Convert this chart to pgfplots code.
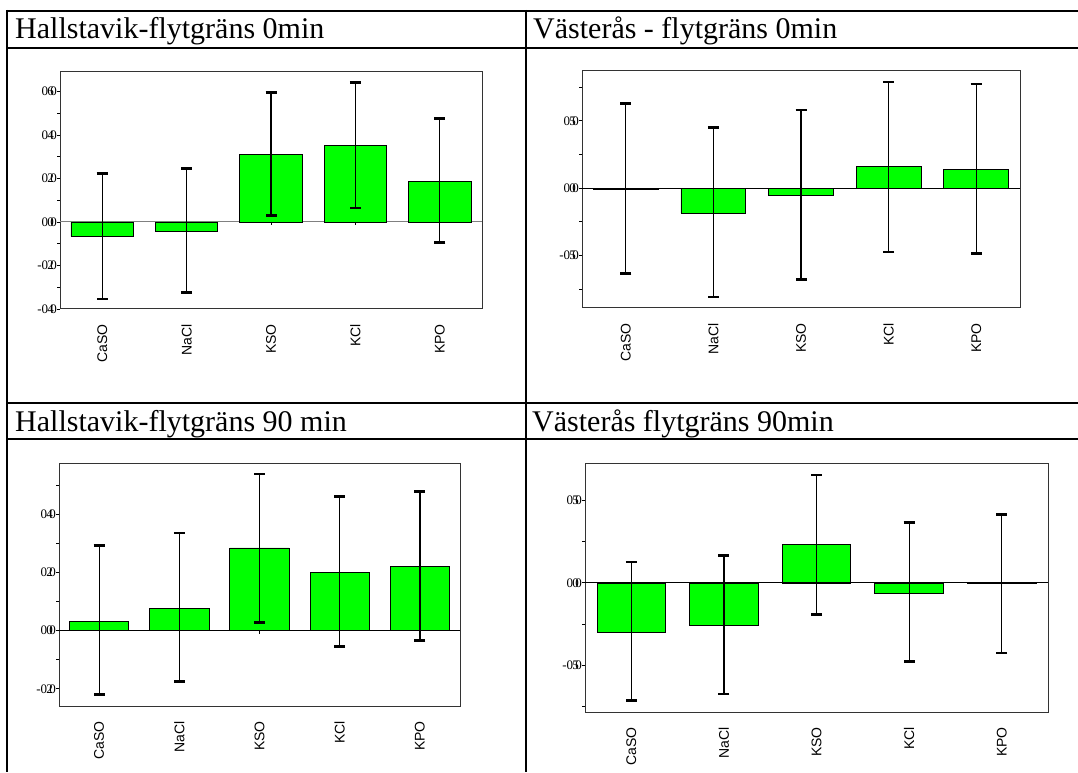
\documentclass[border=0pt]{standalone}
\usepackage{fontspec}
\setmainfont{Liberation Serif}
\newfontfamily\arial{Liberation Sans}
\usepackage{pgfplots}
\pgfplotsset{compat=1.18}

\newcommand\tl[2]{\mbox{#1\kern-0.8pt\rlap{#2}\kern3pt0}}

\pgfplotsset{
  panel/.style={
    scale only axis,
    xmin=-0.5, xmax=4.5,
    xtick={0,1,2,3,4},
    xticklabels={CaSO,NaCl,KSO,KCl,KPO},
    x tick label style={rotate=90, anchor=east, inner sep=0pt, font=\arial\fontsize{14}{14}\selectfont},
    xticklabel shift=12pt,
    x tick style={draw=none},
    y tick label style={font=\fontsize{13}{13}\selectfont, inner sep=0pt},
    tick align=outside,
    major tick length=3pt, minor tick length=3pt,
    y tick style={black, line width=0.8pt},
    minor y tick style={black, line width=0.8pt},
    axis line style={black!80, line width=1pt},
    ytick pos=left,
  },
  bars/.style={
    ybar, bar width=0.74, fill=green, draw=black, line width=0.7pt,
    error bars/.cd, y dir=both, y explicit, error mark=|,
    error bar style={line width=1.2pt, black},
    error mark options={line width=2.8pt, mark size=5.5pt, black},
  },
  ticksbelow/.style={only marks, mark=|, mark size=1.5pt, mark options={yshift=-1.5pt, black, line width=0.8pt}},
}

\begin{document}
\begin{tikzpicture}
\useasboundingbox (0pt,0pt) rectangle (1078pt,772pt);

% table rules
\draw[line width=1.8pt] (7pt,761pt) -- (1078pt,761pt);
\draw[line width=1.8pt] (7pt,724pt) -- (1078pt,724pt);
\draw[line width=1.8pt] (7pt,369pt) -- (1078pt,369pt);
\draw[line width=1.8pt] (7pt,333pt) -- (1078pt,333pt);
\draw[line width=1.8pt] (7pt,762pt) -- (7pt,0pt);
\draw[line width=1.8pt] (526pt,762pt) -- (526pt,0pt);

% titles
\node[anchor=base west, inner sep=0pt, font=\fontsize{30}{30}\selectfont] at (15pt,733pt) {Hallstavik-flytgräns 0min};
\node[anchor=base west, inner sep=0pt, font=\fontsize{30}{30}\selectfont] at (533pt,733pt) {Västerås - flytgräns 0min};
\node[anchor=base west, inner sep=0pt, font=\fontsize{30}{30}\selectfont] at (15pt,341pt) {Hallstavik-flytgräns 90 min};
\node[anchor=base west, inner sep=0pt, font=\fontsize{30}{30}\selectfont] at (532pt,341pt) {Västerås flytgräns 90min};

% Panel 1
\begin{axis}[panel, at={(60pt,463pt)}, anchor=south west, width=422pt, height=238pt,
  ymin=-0.40, ymax=0.694,
  ytick={-0.4,-0.2,0,0.2,0.4,0.6},
  yticklabels={\tl{-0}{4},\tl{-0}{2},\tl{0}{0},\tl{0}{2},\tl{0}{4},\tl{0}{6}},
  minor ytick={-0.3,-0.1,0.1,0.3,0.5}]
\addplot[gray, line width=1pt, forget plot] coordinates {(-0.5,0) (4.5,0)};
\addplot[ticksbelow] coordinates {(0,0) (1,0) (2,0) (3,0) (4,0)};
\addplot[bars] coordinates {
  (0,-0.066) += (0,0.288) -= (0,0.288)
  (1,-0.043) += (0,0.288) -= (0,0.282)
  (2,0.310)  += (0,0.286) -= (0,0.282)
  (3,0.351)  += (0,0.290) -= (0,0.287)
  (4,0.185)  += (0,0.290) -= (0,0.278)
};
\end{axis}

% Panel 2
\begin{axis}[panel, at={(582pt,464pt)}, anchor=south west, width=438pt, height=237pt,
  ymin=-0.889, ymax=0.869,
  ytick={-0.5,0,0.5},
  yticklabels={\tl{-0}{5},\tl{0}{0},\tl{0}{5}},
  minor ytick={-0.75,-0.25,0.25,0.75}]
\addplot[ticksbelow] coordinates {(0,0) (1,0) (2,0) (3,0) (4,0)};
\addplot[bars] coordinates {
  (0,-0.010) += (0,0.635) -= (0,0.625)
  (1,-0.185) += (0,0.637) -= (0,0.622)
  (2,-0.057) += (0,0.637) -= (0,0.622)
  (3,0.163)  += (0,0.625) -= (0,0.637)
  (4,0.138)  += (0,0.635) -= (0,0.624)
};
\addplot[black, line width=1pt, forget plot] coordinates {(-0.5,0) (4.5,0)};
\end{axis}

% Panel 3
\begin{axis}[panel, at={(59pt,66pt)}, anchor=south west, width=401pt, height=243pt,
  ymin=-0.259, ymax=0.577,
  ytick={-0.2,0,0.2,0.4},
  yticklabels={\tl{-0}{2},\tl{0}{0},\tl{0}{2},\tl{0}{4}},
  minor ytick={-0.1,0.1,0.3,0.5}]
\addplot[black, line width=1pt, forget plot] coordinates {(-0.5,0) (4.5,0)};
\addplot[ticksbelow] coordinates {(0,0) (1,0) (2,0) (3,0) (4,0)};
\addplot[bars] coordinates {
  (0,0.032) += (0,0.260) -= (0,0.252)
  (1,0.076) += (0,0.260) -= (0,0.252)
  (2,0.285) += (0,0.254) -= (0,0.257)
  (3,0.202) += (0,0.260) -= (0,0.257)
  (4,0.220) += (0,0.258) -= (0,0.253)
};
\end{axis}

% Panel 4
\begin{axis}[panel, at={(585pt,60pt)}, anchor=south west, width=463pt, height=248pt,
  ymin=-0.782, ymax=0.72,
  ytick={-0.5,0,0.5},
  yticklabels={\tl{-0}{5},\tl{0}{0},\tl{0}{5}},
  minor ytick={-0.75,-0.25,0.25}]
\addplot[ticksbelow] coordinates {(0,0) (1,0) (2,0) (3,0) (4,0)};
\addplot[bars] coordinates {
  (0,-0.298) += (0,0.425) -= (0,0.416)
  (1,-0.256) += (0,0.421) -= (0,0.417)
  (2,0.234)  += (0,0.419) -= (0,0.424)
  (3,-0.0625) += (0,0.4295) -= (0,0.4135)
  (4,-0.003) += (0,0.418) -= (0,0.422)
};
\addplot[black, line width=1pt, forget plot] coordinates {(-0.5,0) (4.5,0)};
\end{axis}
\end{tikzpicture}
\end{document}
